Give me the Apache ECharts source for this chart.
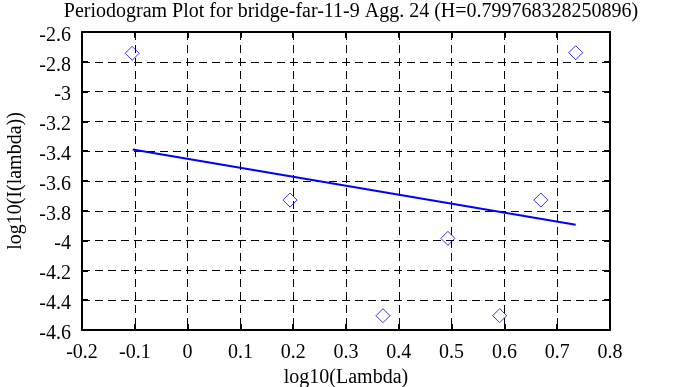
<!DOCTYPE html>
<html>
<head>
<meta charset="utf-8">
<script src="https://cdn.jsdelivr.net/npm/echarts@6/dist/echarts.min.js"></script>
<style>html,body{margin:0;padding:0;background:#fff}#c{width:683px;height:387px}</style>
</head>
<body>
<div id="c"></div>
<script>
const titleText = 'Periodogram Plot for bridge-far-11-9 Agg. 24 (H=0.799768328250896)';
const xName = 'log10(Lambda)';
const yName = 'log10(I(lambda))';
const pointX = [-0.105, 0.194, 0.370, 0.493, 0.591, 0.669, 0.735];
const pointY = [-2.743, -3.728, -4.504, -3.985, -4.504, -3.728, -2.739];
const fitX = [-0.104, 0.735];
const fitY = [-3.388, -3.894];

const font = 'Liberation Serif';
const fs = 20;
const chart = echarts.init(document.getElementById('c'), null, {renderer: 'canvas'});
const ax = (pos, show, min, max, interval) => ({
  type: 'value', position: pos, min: min, max: max, interval: interval,
  axisLine: {show: true, onZero: false, lineStyle: {color: '#000', width: 2}},
  axisTick: {show: true, inside: true, length: 6, lineStyle: {color: '#000', width: 2}},
  axisLabel: {show: show, color: '#000', fontFamily: font, fontSize: fs},
  splitLine: {show: show, lineStyle: {color: '#000', type: [8, 5], width: 1}}
});
const xb = ax('bottom', true, -0.2, 0.8, 0.1);
xb.axisLabel.margin = 13;
xb.axisLabel.formatter = v => String(Math.round(v * 10) / 10);
xb.name = xName; xb.nameLocation = 'middle'; xb.nameGap = 38;
xb.nameTextStyle = {color: '#000', fontFamily: font, fontSize: fs};
const xt = ax('top', false, -0.2, 0.8, 0.1);
const yl = ax('left', true, -4.6, -2.6, 0.2);
yl.axisLabel.margin = 11;
yl.axisLabel.formatter = v => '{a|' + String(Math.round(v * 10) / 10) + '}';
yl.axisLabel.rich = {a: {color: '#000', fontFamily: font, fontSize: fs, padding: [7, 0, 0, 0]}};
yl.name = yName; yl.nameLocation = 'middle'; yl.nameGap = 56;
yl.nameTextStyle = {color: '#000', fontFamily: font, fontSize: fs};
const yr = ax('right', false, -4.6, -2.6, 0.2);

chart.setOption({
  animation: false,
  backgroundColor: '#fff',
  title: {text: titleText, left: 346, textAlign: 'center', top: -3,
    textStyle: {color: '#000', fontFamily: font, fontSize: fs, fontWeight: 'normal'}},
  grid: {left: 82, right: 73, top: 32, bottom: 57, containLabel: false, outerBoundsMode: 'none'},
  xAxis: [xb, xt],
  yAxis: [yl, yr],
  series: [
    {type: 'scatter', xAxisIndex: 0, yAxisIndex: 0, symbol: 'diamond', symbolSize: 14,
      itemStyle: {color: 'transparent', borderColor: '#0000ff', borderWidth: 1},
      data: pointX.map((x, i) => [x, pointY[i]])},
    {type: 'line', xAxisIndex: 0, yAxisIndex: 0, symbol: 'none',
      lineStyle: {color: '#0000ff', width: 2},
      data: fitX.map((x, i) => [x, fitY[i]])}
  ]
});
</script>
</body>
</html>
